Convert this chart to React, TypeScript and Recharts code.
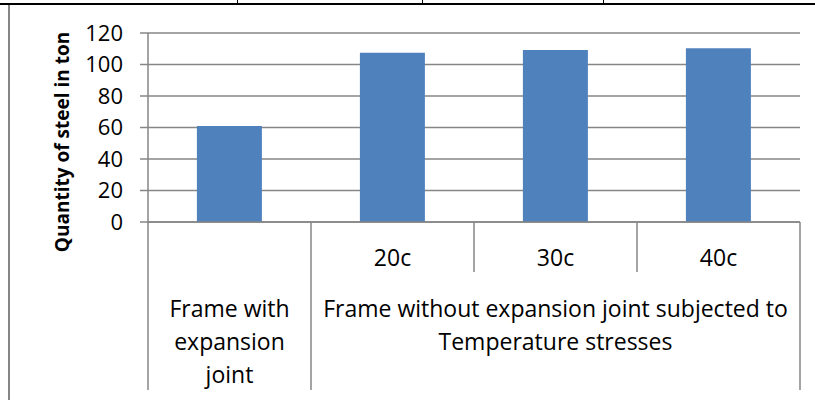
import { BarChart, Bar, XAxis, YAxis, CartesianGrid, Label } from 'recharts';

// categories (lower level = group, upper level = temperature)
const categories = ['', '20c', '30c', '40c'];
const groupOf = [0, 1, 1, 1];
const groupLines = [
  ['Frame with', 'expansion', 'joint'],
  ['Frame without expansion joint subjected to', 'Temperature stresses'],
];
const steel = [61, 107.5, 109.2, 110.3];
const yTicks = [0, 20, 40, 60, 80, 100, 120];

const data = categories.map((c, i) => ({ key: `c${i}`, sub: c, steel: steel[i] }));

const W = 815;
const H = 400;
const MARGIN = { top: 33, right: 15, bottom: 0, left: 0 };
const Y_AXIS_W = 148;
const X_AXIS_H = 178;
const PLOT_BOTTOM = H - MARGIN.bottom - X_AXIS_H;
const CELL_W = (W - MARGIN.left - MARGIN.right - Y_AXIS_W) / categories.length;

const GRAY = '#868686';
const FONT = '"Open Sans", sans-serif';
const CAT_FONT_SIZE = 23;

const CategoryTick = (props: any) => {
  const { x, index } = props;
  const i = index;
  const half = CELL_W / 2;
  const newGroup = i === 0 || groupOf[i] !== groupOf[i - 1];
  const isLast = i === categories.length - 1;
  const members = groupOf.map((g, k) => (g === groupOf[i] ? k : -1)).filter((k) => k >= 0);
  const first = members[0];
  const last = members[members.length - 1];
  const groupX = x + ((first + last) / 2 - i) * CELL_W;
  return (
    <g>
      <line
        x1={x - half}
        x2={x - half}
        y1={PLOT_BOTTOM}
        y2={newGroup ? 390 : 272}
        stroke={GRAY}
        strokeWidth={1.5}
      />
      {isLast && (
        <line x1={x + half} x2={x + half} y1={PLOT_BOTTOM} y2={390} stroke={GRAY} strokeWidth={1.5} />
      )}
      {categories[i] && (
        <text
          x={x}
          y={257}
          textAnchor="middle"
          dominantBaseline="central"
          fontSize={CAT_FONT_SIZE}
          fontFamily={FONT}
          fill="#000"
        >
          {categories[i]}
        </text>
      )}
      {i === first &&
        groupLines[groupOf[i]].map((line, k) => (
          <text
            key={k}
            x={groupX}
            y={308 + k * 33}
            textAnchor="middle"
            dominantBaseline="central"
            fontSize={CAT_FONT_SIZE}
            fontFamily={FONT}
            fill="#000"
          >
            {line}
          </text>
        ))}
    </g>
  );
};

export default function App() {
  return (
    <div style={{ position: 'relative', width: W, height: H, background: '#fff' }}>
      <style>{`body{margin:0}`}</style>
      <BarChart width={W} height={H} data={data} margin={MARGIN} barCategoryGap="30%">
        <CartesianGrid vertical={false} stroke={GRAY} strokeWidth={1.5} />
        <XAxis
          dataKey="key"
          height={X_AXIS_H}
          interval={0}
          tickLine={false}
          axisLine={{ stroke: GRAY, strokeWidth: 1.5 }}
          tick={<CategoryTick />}
        />
        <YAxis
          width={Y_AXIS_W}
          domain={[0, 120]}
          ticks={yTicks}
          interval={0}
          tickSize={8}
          tickMargin={17}
          tickLine={{ stroke: GRAY, strokeWidth: 1.5 }}
          axisLine={{ stroke: GRAY, strokeWidth: 1.5 }}
          tick={{ fontSize: 22, fontFamily: FONT, fill: '#000' }}
        >
          <Label
            content={() => (
              <text
                x={62}
                y={142}
                transform="rotate(-90 62 142)"
                textAnchor="middle"
                dominantBaseline="central"
                fontSize={19}
                fontWeight="bold"
                fontFamily={FONT}
                fill="#000"
              >
                Quantity of steel in ton
              </text>
            )}
          />
        </YAxis>
        <Bar dataKey="steel" fill="#4F81BD" isAnimationActive={false} />
      </BarChart>
      {/* page frame fragments */}
      <div style={{ position: 'absolute', left: 0, top: 3, width: W, height: 2, background: '#000' }} />
      <div style={{ position: 'absolute', left: 8, top: 5, width: 2, height: H - 5, background: GRAY }} />
      <div style={{ position: 'absolute', left: 237, top: 0, width: 1, height: 4, background: '#000' }} />
      <div style={{ position: 'absolute', left: 422, top: 0, width: 1, height: 4, background: '#000' }} />
      <div style={{ position: 'absolute', left: 603, top: 0, width: 1, height: 4, background: '#000' }} />
    </div>
  );
}
